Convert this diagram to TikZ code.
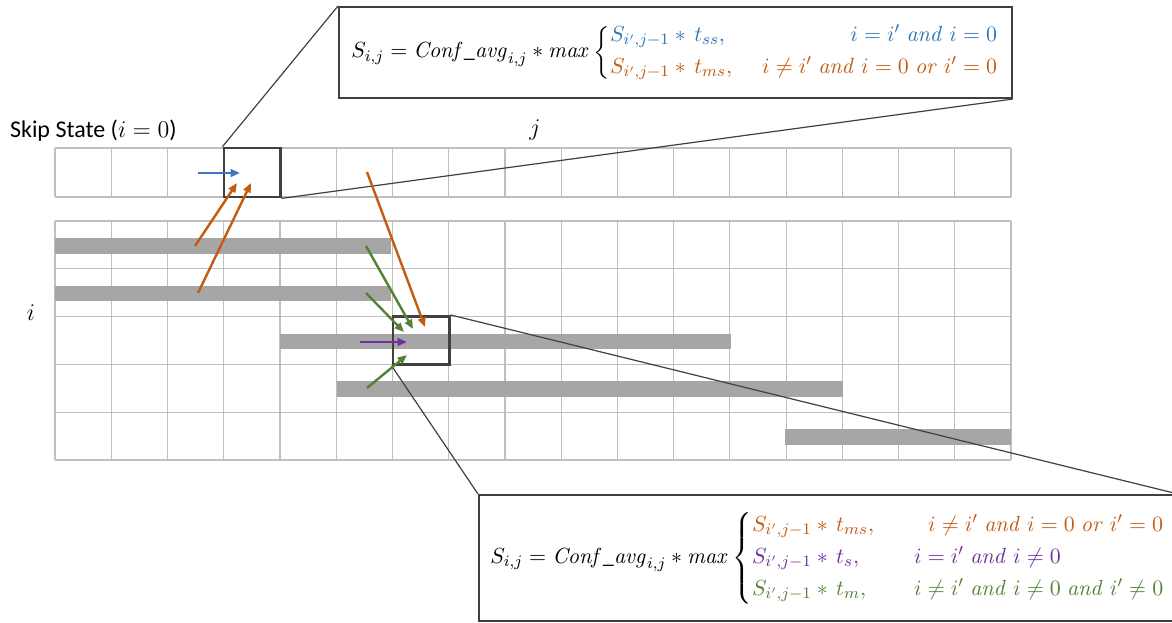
\documentclass[tikz,border=0pt]{standalone}
\usepackage{amsmath}
\usepackage[no-math]{fontspec}
\setmainfont{Carlito}
\usetikzlibrary{arrows.meta}

\definecolor{skipblue}{HTML}{2E75B6}
\definecolor{arrblue}{HTML}{4472C4}
\definecolor{msorange}{HTML}{C55A11}
\definecolor{mgreen}{HTML}{548235}
\definecolor{spurple}{HTML}{7030A0}
\definecolor{gridgray}{HTML}{BFBFBF}
\definecolor{bargray}{HTML}{A6A6A6}
\definecolor{boxgray}{HTML}{404040}

\begin{document}
\begin{tikzpicture}[
    x=0.5pt, y=-0.5pt, font=\fontsize{12}{14}\selectfont,
    >={Triangle[length=4.7pt,width=3.8pt]},
    grid/.style   ={draw=gridgray, line width=0.6pt},
    bar/.style    ={fill=bargray, draw=none},
    hilite/.style ={draw=boxgray, line width=1.4pt, inner sep=0pt, minimum width=28.1pt, minimum height=24pt},
    zoomline/.style={draw=boxgray, line width=0.6pt},
    callout/.style={draw=boxgray, line width=1pt, fill=white, inner sep=0pt, anchor=north west, font=\fontsize{11}{13}\selectfont},
    trans/.style  ={->, line width=1.2pt},
]
\useasboundingbox (0,0) rectangle (1172,622);

% skip-state row
\foreach \k in {0,...,17}
  \draw[grid] ({55+56.24*\k},148) -- ({55+56.24*\k},197);
\draw[grid] (55,148) -- (1011,148);
\draw[grid] (55,197) -- (1011,197);

% state rows
\foreach \k in {0,...,17}
  \draw[grid] ({55+56.24*\k},221) -- ({55+56.24*\k},460);
\foreach \r in {0,...,5}
  \draw[grid] (55,{221+47.8*\r}) -- (1011,{221+47.8*\r});

% segments
\foreach \r/\a/\b in {0/55/391, 1/55/391, 2/280/731, 3/337/843, 4/785/1011}
  \fill[bar] (\a,{221+47.8*\r+17}) rectangle (\b,{221+47.8*\r+32.5});

% labels
\node[anchor=west] (skiplbl) at (3,131) {Skip State ($i=0$)};
\node (jlbl) at (535,130) {\fontsize{13}{15}\selectfont$j$};
\node (ilbl) at (31,313) {\fontsize{13}{15}\selectfont$i$};

% highlighted cells
\node[hilite, minimum height=24.5pt] (topcell) at (252,172.5) {};
\node[hilite] (midcell) at (421,340.3) {};

% callouts
\node[callout, minimum width=336.5pt, minimum height=45.5pt] (calltop) at (338,6)
  {$S_{i,j} = \mathit{Conf\_avg}_{i,j} \ast \mathit{max}\left\{\begin{array}{@{}l@{\hspace{15pt}}r@{}}
    \color{skipblue} S_{i',j-1} \ast\, t_{ss}, & \color{skipblue} i = i' \;\mathit{and}\; i = 0\\[3pt]
    \color{msorange} S_{i',j-1} \ast\, t_{ms}, & \color{msorange} i \neq i' \;\mathit{and}\; i = 0 \;\mathit{or}\; i' = 0
  \end{array}\right.$};
\node[callout, minimum width=349pt, minimum height=63pt] (callbot) at (478,494)
  {$S_{i,j} = \mathit{Conf\_avg}_{i,j} \ast \mathit{max}\left\{\begin{array}{@{}l@{\hspace{20pt}}l@{}}
    \color{msorange} S_{i',j-1} \ast\, t_{ms}, & \color{msorange} \hspace{7pt} i \neq i' \;\mathit{and}\; i = 0 \;\mathit{or}\; i' = 0\\[3pt]
    \color{spurple} S_{i',j-1} \ast\, t_{s}, & \color{spurple} i = i' \;\mathit{and}\; i \neq 0\\[3pt]
    \color{mgreen} S_{i',j-1} \ast\, t_{m}, & \color{mgreen} i \neq i' \;\mathit{and}\; i \neq 0 \;\mathit{and}\; i' \neq 0
  \end{array}\right.$};

% zoom lines
\draw[zoomline] (topcell.north west) -- (calltop.north west);
\draw[zoomline] (topcell.south east) -- (calltop.south east);
\draw[zoomline] (midcell.south west) -- (callbot.north west);
\draw[zoomline] (midcell.north east) -- (callbot.north east);

% transitions
\coordinate (bs)  at (198,173);  \coordinate (be)  at (240,173);
\coordinate (o1s) at (195,246);  \coordinate (o1e) at (237,183);
\coordinate (o2s) at (198,293);  \coordinate (o2e) at (251,183);
\coordinate (o3s) at (367,172);  \coordinate (o3e) at (425,327);
\coordinate (g1s) at (366,246);  \coordinate (g1e) at (413,329);
\coordinate (g2s) at (366,293);  \coordinate (g2e) at (404,332);
\coordinate (ps)  at (360,342);  \coordinate (pe)  at (407,342);
\coordinate (g3s) at (367,388);  \coordinate (g3e) at (407,355);
\draw[trans, arrblue]  (bs)  -- (be);
\draw[trans, msorange] (o1s) -- (o1e);
\draw[trans, msorange] (o2s) -- (o2e);
\draw[trans, msorange] (o3s) -- (o3e);
\draw[trans, mgreen]   (g1s) -- (g1e);
\draw[trans, mgreen]   (g2s) -- (g2e);
\draw[trans, spurple]  (ps)  -- (pe);
\draw[trans, mgreen]   (g3s) -- (g3e);
\end{tikzpicture}
\end{document}
